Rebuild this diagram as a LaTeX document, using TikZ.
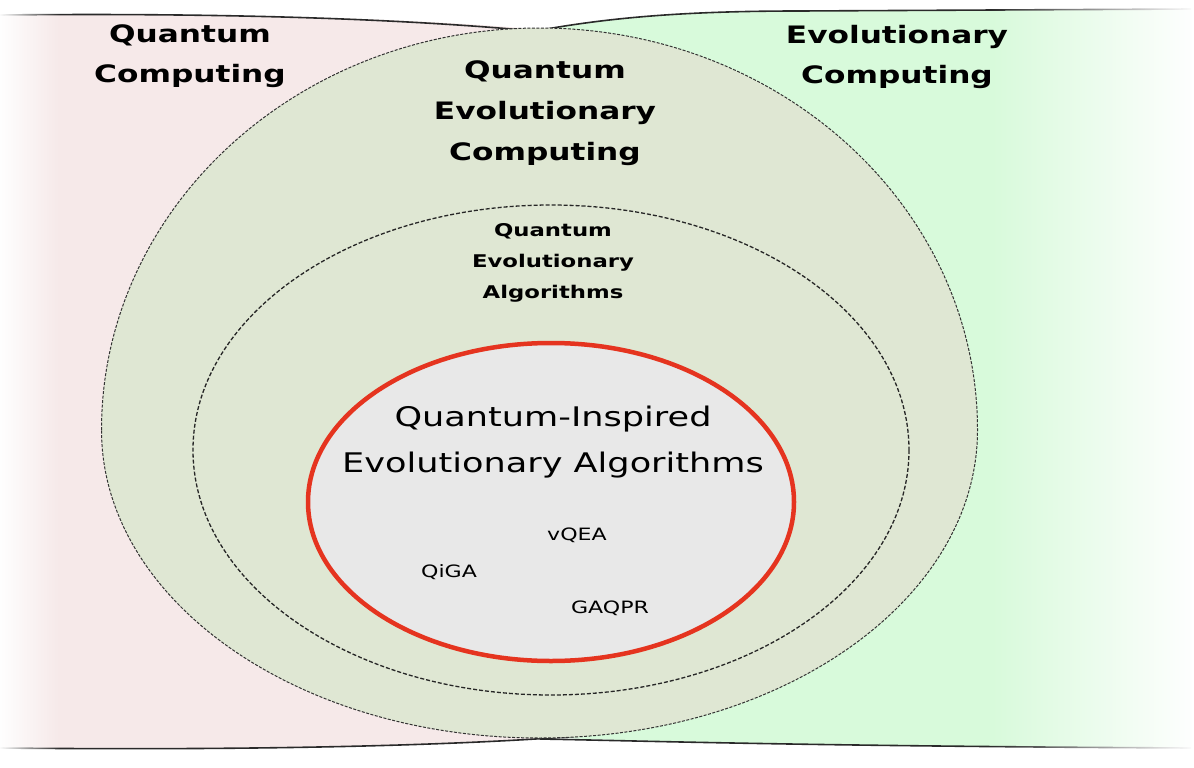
\documentclass[tikz,border=0pt]{standalone}
\usepackage{fontspec}
\setmainfont{DejaVu Sans}
\usetikzlibrary{fadings}
\tikzfading[name=fadeL, left color=transparent!0, right color=transparent!100]
\tikzfading[name=fadeR, left color=transparent!100, right color=transparent!0]
\definecolor{qpink}{HTML}{F6E9E9}
\definecolor{egreen}{HTML}{D8FADB}
\definecolor{olive}{HTML}{DFE7D3}
\definecolor{lgray}{HTML}{E8E8E8}
\definecolor{qred}{HTML}{E5341F}
\definecolor{edgec}{HTML}{2A2A2A}
\newcommand\hstretch[1]{\scalebox{1.3}[1]{#1}}
\begin{document}
\begin{tikzpicture}[x=1pt,y=-1pt,
  bandedge/.style={draw=edgec, line width=1.6pt},
  outerring/.style={fill=olive, draw=black!80, line width=1pt, dash pattern=on 3pt off 1.5pt},
  innerring/.style={fill=olive, draw=black!85, line width=1.3pt, dash pattern=on 4pt off 2pt},
  redring/.style={fill=lgray, draw=qred, line width=4.5pt},
  txt/.style={inner sep=0pt, align=center, text=black},
]
\useasboundingbox (0,0) rectangle (1194,768);
% bands
\fill[qpink] (0,15) .. controls (200,13) and (400,17) .. (545,30) -- (560,738)
  .. controls (420,746) and (200,750) .. (0,748) -- cycle;
\fill[egreen] (545,30) .. controls (610,18) and (680,11) .. (800,11) -- (1191,9) -- (1191,748)
  .. controls (800,746) and (650,741) .. (560,738) -- cycle;
\draw[bandedge] (0,15) .. controls (200,13) and (400,17) .. (565,34);
\draw[bandedge] (520,34) .. controls (600,18) and (680,11) .. (800,11) -- (1191,9);
\draw[bandedge] (0,748) .. controls (200,750) and (420,748) .. (580,736);
\draw[bandedge] (540,739) .. controls (650,741) and (800,746) .. (1191,748);
% fades
\fill[white, path fading=fadeL] (-1,-1) rectangle (60,770);
\fill[white, path fading=fadeR] (990,-1) rectangle (1195,770);
% rings
\path[outerring] (101.5,430) arc[start angle=180, end angle=360, x radius=438, y radius=402]
  arc[start angle=0, end angle=180, x radius=438, y radius=308] -- cycle;
\path[innerring] (551,450) ellipse [x radius=358, y radius=245];
\path[redring] (551,502) ellipse [x radius=243, y radius=159];
% texts
\node[txt, font=\fontsize{24}{40}\selectfont\bfseries] (qc) at (190,55)
  {\hstretch{\begin{tabular}{@{}c@{}}Quantum\\Computing\end{tabular}}};
\node[txt, font=\fontsize{24}{40}\selectfont\bfseries] (ec) at (897,56)
  {\hstretch{\begin{tabular}{@{}c@{}}Evolutionary\\Computing\end{tabular}}};
\node[txt, font=\fontsize{24}{41}\selectfont\bfseries] (qec) at (545,111)
  {\hstretch{\begin{tabular}{@{}c@{}}Quantum\\Evolutionary\\Computing\end{tabular}}};
\node[txt, font=\fontsize{17.5}{31}\selectfont\bfseries] (qea) at (553,261)
  {\hstretch{\begin{tabular}{@{}c@{}}Quantum\\Evolutionary\\Algorithms\end{tabular}}};
\node[txt, font=\fontsize{27}{46}\selectfont] (qiea) at (553,440)
  {\hstretch{\begin{tabular}{@{}c@{}}Quantum-Inspired\\Evolutionary Algorithms\end{tabular}}};
\node[txt, font=\fontsize{17}{20}\selectfont] (vqea) at (577,535) {\hstretch{vQEA}};
\node[txt, font=\fontsize{17}{20}\selectfont] (qiga) at (449,572) {\hstretch{QiGA}};
\node[txt, font=\fontsize{17}{20}\selectfont] (gaqpr) at (610,608) {\hstretch{GAQPR}};
\end{tikzpicture}
\end{document}
